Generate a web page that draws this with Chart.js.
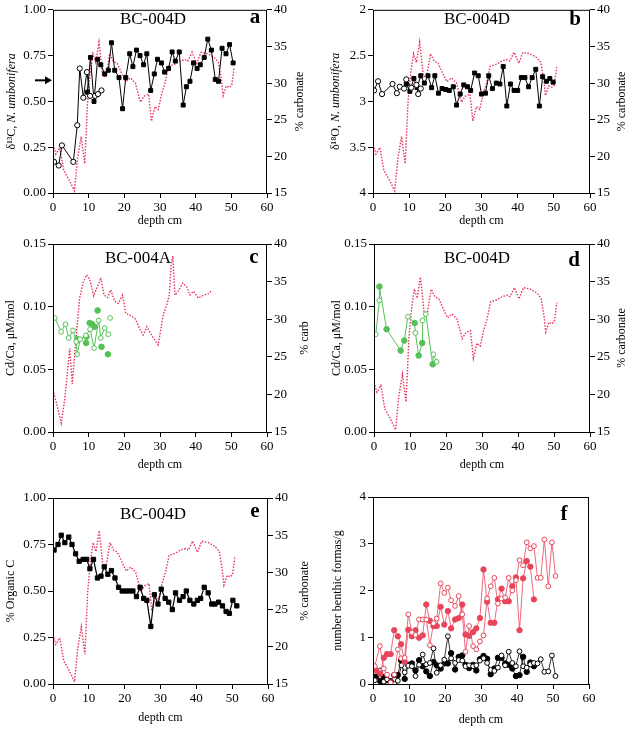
<!DOCTYPE html>
<html>
<head>
<meta charset="utf-8">
<script src="https://cdn.jsdelivr.net/npm/chart.js@4.4.0/dist/chart.umd.min.js"></script>
<style>
body { margin: 0; background: #fff; width: 630px; height: 729px; position: relative; overflow: hidden; }
canvas { position: absolute; }
</style>
</head>
<body>
<canvas id="pa" width="315" height="228" style="left:0;top:0"></canvas>
<canvas id="pb" width="315" height="228" style="left:315px;top:0"></canvas>
<canvas id="pc" width="315" height="250" style="left:0;top:228px"></canvas>
<canvas id="pd" width="315" height="250" style="left:315px;top:228px"></canvas>
<canvas id="pe" width="315" height="251" style="left:0;top:478px"></canvas>
<canvas id="pf" width="315" height="251" style="left:315px;top:478px"></canvas>
<script>
// % carbonate, BC-004D  [depth cm, %]
var carbD = [[0,21.6],[0.8,20.3],[1.9,21.2],[3,18.1],[4.5,16.8],[6,15.3],[6.9,19.8],[7.9,22.7],[8.9,19.0],[9.7,27.5],
  [10.4,31.3],[11.2,34.0],[12,32.8],[12.9,35.6],[13.9,31.0],[14.8,30.8],[15.9,34.0],[16.9,33.0],[18,32.7],[19.4,31.2],
  [20.4,30.2],[21.7,30.7],[23.1,30.0],[24.5,27.4],[25.5,28.2],[26.8,28.5],[27.6,24.8],[28.6,26.8],[29.5,26.4],[30.5,28.6],
  [31.4,30.0],[32.4,32.3],[34.2,32.6],[35.6,33.0],[37,33.2],[37.8,33.0],[39,34.2],[40.3,32.7],[41.5,34.2],[43.4,34.0],
  [45.2,33.5],[46.4,32.8],[47.2,30.5],[47.7,28.3],[48.6,29.6],[49.4,29.4],[50.1,29.7],[50.8,32.2]];
// % carbonate, BC-004A
var carbA = [[0,20.6],[1.1,18.6],[2.3,16.2],[3.3,19.4],[4.7,26.1],[5.4,21.4],[6.6,28.3],[7.5,32.9],[8.4,34.8],[9.4,35.9],
  [10.3,35.3],[11.4,33.1],[12.5,34.4],[13.4,35.5],[14.3,33.2],[15.3,32.9],[16.2,33.9],[17.3,32.4],[18.3,32.1],[19.5,33.2],
  [20.4,30.8],[21.6,30.5],[23,30.1],[24.2,28.8],[25.3,27.9],[26.3,29.0],[28.1,27.5],[29.5,26.6],[30.9,30.6],[31.9,31.9],
  [32.6,33.2],[33.1,37.2],[33.6,38.4],[34.2,33.2],[35.2,33.8],[36.4,34.8],[37.5,34.3],[38.4,33.2],[39.4,33.7],[40.8,32.8],
  [42.2,33.2],[43.6,33.4],[44.5,33.8]];

// a: d13C N. umbonifera
var d13cOpen = [[0.3,0.17],[1.6,0.15],[2.5,0.26],[5.7,0.17],[6.8,0.37],[7.5,0.68],[8.5,0.52],[9.5,0.66],[10.4,0.53],[11.8,0.53],[12.6,0.54],[13.6,0.56]];
var d13cFilled = [[9.6,0.55],[10.5,0.74],[11.5,0.50],[12.5,0.73],[13.4,0.70],[14.5,0.65],[15.5,0.67],[16.4,0.82],[17.3,0.67],[18.5,0.63],
  [19.5,0.46],[20.4,0.63],[21.5,0.76],[22.4,0.69],[23.4,0.78],[24.4,0.75],[25.4,0.70],[26.3,0.76],[27.4,0.56],[28.4,0.65],
  [29.3,0.73],[30.4,0.71],[31.3,0.66],[32.4,0.68],[33.4,0.77],[34.3,0.72],[35.4,0.77],[36.5,0.48],[37.4,0.58],[38.4,0.61],
  [39.4,0.71],[40.4,0.68],[41.3,0.70],[42.4,0.74],[43.4,0.84],[44.4,0.78],[45.5,0.62],[46.4,0.61],[47.4,0.79],[48.5,0.76],
  [49.5,0.81],[50.5,0.71]];
var arrowAt = 0.615;

// b: d18O N. umbonifera
var d18oOpen = [[0.3,2.88],[1.4,2.78],[2.5,2.92],[5.4,2.81],[6.6,2.91],[7.4,2.84],[8.6,2.86],[9.2,2.76],[10.6,2.85],[12,2.82],[12.5,2.92],[13.2,2.86]];
var d18oFilled = [[9.2,2.81],[10.2,2.89],[11.3,2.75],[12.2,2.85],[13.2,2.72],[14.2,2.80],[15.2,2.72],[16.2,2.85],[17.1,2.72],[18.1,2.91],
  [19.1,2.86],[20.1,2.87],[21.1,2.88],[22.2,2.84],[23.1,3.04],[24.1,2.92],[25.1,2.82],[26.1,2.84],[27,2.88],[28.1,2.69],
  [29.1,2.72],[30,2.92],[31.1,2.91],[32,2.72],[33,2.86],[34.1,2.80],[35.1,2.81],[36,2.62],[37,3.05],[38,2.81],
  [39,2.88],[40,2.88],[41,2.74],[42,2.74],[43,2.84],[44,2.74],[45,2.65],[46,3.05],[46.9,2.73],[48,2.78],[48.9,2.75],[49.8,2.79]];

// c: Cd/Ca BC-004A
var cdcaAOpen = [[0.5,0.091],[2.3,0.080],[3.5,0.086],[4.4,0.075],[5.6,0.081],[6.5,0.072],[6.8,0.062],[7.6,0.074],[9.2,0.077],[10.4,0.082],[11.5,0.067],[12.8,0.089],[13.4,0.075],[14.5,0.083],[15.5,0.078]];
var cdcaAFilled = [[6.8,0.074],[9.3,0.071],[9.4,0.076],[10.3,0.087],[11,0.086],[11.6,0.084],[12.5,0.097],[13.6,0.068],[15.4,0.062]];
var cdcaALone = [[16,0.091]];

// d: Cd/Ca BC-004D
var cdcaDOpen = [[0.5,0.078],[1.5,0.105],[9.4,0.092],[11.5,0.079],[13.5,0.089],[14.4,0.094],[16.5,0.062],[17.4,0.056]];
var cdcaDFilled = [[1.5,0.116],[3.5,0.082],[7.4,0.065],[8.4,0.073],[11.3,0.087],[12.4,0.061],[13.4,0.071],[16.3,0.054]];

// e: % organic C
var orgC = [[0.3,0.72],[1.4,0.75],[2.3,0.80],[3.3,0.76],[4.4,0.79],[5.3,0.75],[6.3,0.70],[7.3,0.66],[8.4,0.67],[9.4,0.67],
  [10.3,0.62],[11.3,0.67],[12.4,0.57],[13.4,0.58],[14.3,0.63],[15.3,0.59],[16.3,0.61],[17.3,0.57],[18.3,0.52],[19.3,0.50],
  [20.3,0.50],[21.3,0.50],[22.3,0.50],[23.3,0.47],[24.3,0.52],[25.3,0.46],[26.2,0.45],[27.3,0.31],[28.3,0.48],[29.3,0.43],
  [30.2,0.51],[31.3,0.46],[32.3,0.44],[33.3,0.40],[34.2,0.49],[35.3,0.45],[36.3,0.47],[37.2,0.50],[38.2,0.45],[39.3,0.43],
  [40.3,0.45],[41.2,0.46],[42.2,0.52],[43.3,0.49],[44.3,0.43],[45.2,0.43],[46.2,0.44],[47.3,0.42],[48.3,0.39],[49.2,0.38],
  [50.2,0.45],[51.3,0.42]];

// f: number benthic forams/g
var benthRedFilled = [[0.9,0.29],[2,0.22],[3,0.56],[3.9,0.64],[4.9,0.64],[5.9,1.15],[6.9,1.02],[7.8,0.85],[8.8,0.47],[9.8,1.16],
  [10.8,1.02],[11.8,1.15],[12.8,0.99],[13.8,1.04],[14.8,1.70],[15.8,1.35],[16.8,1.24],[17.7,1.24],[18.8,1.65],[19.8,1.27],
  [20.8,1.56],[21.7,1.19],[22.8,1.38],[23.8,1.41],[24.8,1.70],[25.7,1.06],[26.7,1.03],[27.8,1.11],[28.7,1.19],[29.7,1.41],
  [30.7,2.45],[31.7,1.76],[32.7,1.31],[33.7,1.31],[34.7,1.81],[35.7,2.04],[36.7,1.77],[37.7,1.77],[38.7,2.09],[39.7,2.28],
  [40.7,1.15],[41.7,2.26],[42.7,2.63],[43.7,2.51],[44.7,1.81]];
var benthRedOpen = [[0.5,0.38],[1.9,0.81],[3,0.33],[3.9,0.2],[4.9,0.03],[5.9,0.2],[6.9,0.74],[7.8,0.55],[8.8,0.56],[9.8,1.49],
  [10.8,1.1],[11.8,1.05],[12.8,1.38],[13.8,1.38],[14.8,1.38],[15.8,0.83],[16.8,1.3],[17.7,1.40],[18.8,2.15],[19.8,1.95],
  [20.8,2.06],[21.7,1.79],[22.8,1.67],[23.8,1.88],[24.8,1.49],[25.7,0.69],[26.7,1.24],[27.8,0.81],[28.7,0.74],[29.7,0.91],
  [30.7,1.04],[31.7,1.83],[32.7,2.09],[33.7,2.27],[34.7,1.72],[35.7,1.83],[36.7,1.85],[37.7,2.27],[38.7,2.0],[39.7,2.22],
  [40.7,2.65],[41.7,2.54],[42.7,3.03],[43.7,2.9],[44.7,2.95],[45.7,2.27],[46.6,2.27],[47.6,3.09],[48.7,2.09],[49.7,3.03],[50.7,2.31]];
var benthBlackFilled = [[0.9,0.16],[2,0.06],[3,0.15],[3.9,0.08],[4.9,0.06],[5.9,0.19],[6.9,0.19],[7.8,0.51],[8.8,0.11],[9.8,0.41],
  [10.8,0.44],[11.8,0.29],[12.8,0.51],[13.8,0.38],[14.8,0.27],[15.8,0.17],[16.8,0.47],[17.7,0.40],[18.8,0.33],[19.8,0.44],
  [20.8,0.44],[21.7,0.66],[22.8,0.31],[23.8,0.58],[24.8,0.61],[25.7,0.41],[26.7,0.34],[27.8,0.41],[28.7,0.29],[29.7,0.53],
  [30.7,0.60],[31.7,0.54],[32.7,0.21],[33.7,0.33],[34.7,0.56],[35.7,0.56],[36.7,0.44],[37.7,0.41],[38.7,0.33],[39.7,0.17],
  [40.7,0.19],[41.7,0.58],[42.7,0.26],[43.7,0.46],[44.7,0.38]];
var benthBlackOpen = [[0.5,0.08],[1.9,0.29],[3,0.05],[3.9,0.1],[4.9,0.05],[6,0.0],[6.9,0.07],[7.9,0.40],[8.8,0.25],[9.8,0.39],
  [10.8,0.38],[11.8,0.17],[12.8,0.41],[13.8,0.63],[14.8,0.42],[15.8,0.45],[16.8,0.76],[17.7,0.24],[18.8,0.40],[19.8,0.52],
  [20.8,1.02],[21.7,0.55],[22.8,0.45],[23.8,0.51],[24.8,0.50],[25.7,0.38],[26.7,0.40],[27.8,0.38],[28.7,0.40],[29.7,0.50],
  [30.7,0.55],[31.7,0.45],[32.7,0.30],[33.7,0.28],[34.7,0.35],[35.7,0.61],[36.7,0.40],[37.7,0.69],[38.7,0.45],[39.7,0.38],
  [40.7,0.70],[41.7,0.38],[42.7,0.35],[43.7,0.42],[44.7,0.45],[45.7,0.44],[46.6,0.53],[47.6,0.26],[48.7,0.27],[49.7,0.61],[50.7,0.17]];

var SERIF = '"Liberation Serif", "DejaVu Serif", serif';
var RED = '#e6365e', PINK = '#e8455a', GREEN = '#55c055';

function carbLine(data) {
  return { data: data, yAxisID: 'yR', showLine: true, borderColor: RED, borderWidth: 1.4,
    borderDash: [1.5, 1.5], pointRadius: 0, order: 5 };
}
function marked(data, color, filled, style, r, lineW) {
  return { data: data, yAxisID: 'y', showLine: lineW > 0, borderColor: color, borderWidth: lineW || 0,
    pointStyle: style, pointRadius: r, pointBorderWidth: 1, pointBorderColor: color,
    pointBackgroundColor: filled ? color : '#fff', order: 1 };
}
function sortedMerge(a, b) {
  return a.concat(b).sort(function(p, q) { return p[0] - q[0]; });
}

function drawRot(ctx, x, y, parts, size) {
  ctx.save();
  ctx.translate(x, y);
  ctx.rotate(-Math.PI / 2);
  var w = 0;
  parts.forEach(function(p) { ctx.font = (p[1] ? 'italic ' : '') + size + 'px ' + SERIF; w += ctx.measureText(p[0]).width; });
  var cx = -w / 2;
  ctx.textAlign = 'left'; ctx.textBaseline = 'middle'; ctx.fillStyle = '#000';
  parts.forEach(function(p) { ctx.font = (p[1] ? 'italic ' : '') + size + 'px ' + SERIF; ctx.fillText(p[0], cx, 0); cx += ctx.measureText(p[0]).width; });
  ctx.restore();
}

var panelText = {
  id: 'panelText',
  afterDraw: function(chart, args, o) {
    var ctx = chart.ctx, a = chart.chartArea;
    ctx.save();
    ctx.strokeStyle = '#000';
    ctx.lineWidth = 1;
    ctx.strokeRect(a.left + 0.5, a.top + 0.5, a.right - a.left - 1, a.bottom - a.top);
    ctx.fillStyle = '#000';
    ctx.textAlign = 'center';
    ctx.textBaseline = 'middle';
    ctx.font = '12px ' + SERIF;
    ctx.fillText('depth cm', (a.left + a.right) / 2, o.xTitleY);
    var midY = (a.top + a.bottom) / 2;
    if (o.left) drawRot(ctx, o.leftX, midY, o.left, 12);
    if (o.right) drawRot(ctx, o.rightX, midY, [[o.right, false]], 12);
    if (o.name) {
      ctx.font = '17px ' + SERIF;
      ctx.fillText(o.name, o.nameX, o.nameY);
    }
    ctx.font = 'bold 21px ' + SERIF;
    ctx.fillText(o.letter, o.letterX, o.letterY);
    if (o.arrow != null) {
      var y = chart.scales.y.getPixelForValue(o.arrow);
      ctx.lineWidth = 2;
      ctx.beginPath(); ctx.moveTo(a.left - 18, y); ctx.lineTo(a.left - 6, y); ctx.stroke();
      ctx.beginPath(); ctx.moveTo(a.left - 1, y); ctx.lineTo(a.left - 8, y - 4); ctx.lineTo(a.left - 8, y + 4); ctx.closePath(); ctx.fill();
    }
    ctx.restore();
  }
};

function axisCommon(pos, size, min, max, step, fmt, reverse) {
  var s = {
    type: 'linear', position: pos, min: min, max: max, reverse: !!reverse,
    border: { display: false },
    grid: { drawOnChartArea: false, drawTicks: true, tickLength: 5, color: '#000', tickWidth: 1 },
    ticks: { stepSize: step, color: '#000', padding: 2, font: { family: SERIF, size: 13 }, autoSkip: false,
      maxRotation: 0, callback: fmt || function(v) { return v; } },
    afterFit: function(sc) { if (pos === 'bottom') sc.height = size; else sc.width = size; }
  };
  return s;
}

function makePanel(id, box, left, right, datasets, text) {
  var c = document.getElementById(id);
  var scales = {
    x: axisCommon('bottom', c.height - box.b, 0, 60, 10),
    y: axisCommon('left', box.l, left.min, left.max, left.step, left.fmt, left.reverse)
  };
  if (right) scales.yR = axisCommon('right', c.width - box.r, 15, 40, 5);
  new Chart(c, {
    type: 'scatter',
    data: { datasets: datasets },
    options: {
      responsive: false, animation: false,
      layout: { padding: { top: box.t, right: right ? 0 : c.width - box.r, left: 0, bottom: 0 } },
      plugins: { legend: { display: false }, tooltip: { enabled: false }, panelText: text },
      scales: scales
    },
    plugins: [panelText]
  });
}

var fix2 = function(v) { return v.toFixed(2); };

makePanel('pa', { l: 53, r: 267, t: 7, b: 193 },
  { min: 0, max: 1, step: 0.25, fmt: fix2 }, true,
  [carbLine(carbD), marked(d13cOpen, '#000', false, 'circle', 2.6, 1), marked(d13cFilled, '#000', true, 'rect', 2.8, 1)],
  { xTitleY: 221, leftX: 12, left: [['\u03b4\u00b9\u00b3C, ', false], ['N. umbonifera', true]], rightX: 300, right: '% carbonate',
    name: 'BC-004D', nameX: 153, nameY: 20, letter: 'a', letterX: 255, letterY: 18, arrow: arrowAt });

makePanel('pb', { l: 58, r: 275, t: 7, b: 193 },
  { min: 2, max: 4, step: 0.5, reverse: true }, true,
  [carbLine(carbD), marked(d18oOpen, '#000', false, 'circle', 2.6, 1), marked(d18oFilled, '#000', true, 'rect', 2.8, 1)],
  { xTitleY: 221, leftX: 21, left: [['\u03b4\u00b9\u2078O, ', false], ['N. umbonifera', true]], rightX: 307, right: '% carbonate',
    name: 'BC-004D', nameX: 162, nameY: 20, letter: 'b', letterX: 260, letterY: 20 });

makePanel('pc', { l: 53, r: 267, t: 16, b: 204 },
  { min: 0, max: 0.15, step: 0.05, fmt: fix2 }, true,
  [carbLine(carbA), marked(cdcaAOpen, GREEN, false, 'circle', 2.4, 1), marked(cdcaALone, GREEN, false, 'circle', 2.4, 0),
   marked(cdcaAFilled, GREEN, true, 'circle', 2.8, 0)],
  { xTitleY: 237, leftX: 11, left: [['Cd/Ca, \u03bcM/mol', false]], rightX: 305, right: '% carb',
    name: 'BC-004A', nameX: 138, nameY: 31, letter: 'c', letterX: 254, letterY: 30 });

var cdcaDLine = sortedMerge(cdcaDOpen, cdcaDFilled);
makePanel('pd', { l: 59, r: 275, t: 16, b: 204 },
  { min: 0, max: 0.15, step: 0.05, fmt: fix2 }, true,
  [carbLine(carbD), { data: cdcaDLine, yAxisID: 'y', showLine: true, borderColor: GREEN, borderWidth: 1, pointRadius: 0, order: 2 },
   marked(cdcaDOpen, GREEN, false, 'circle', 2.4, 0), marked(cdcaDFilled, GREEN, true, 'circle', 2.8, 0)],
  { xTitleY: 237, leftX: 22, left: [['Cd/Ca, \u03bcM/mol', false]], rightX: 307, right: '% carbonate',
    name: 'BC-004D', nameX: 162, nameY: 31, letter: 'd', letterX: 259, letterY: 33 });

makePanel('pe', { l: 53, r: 268, t: 20, b: 206 },
  { min: 0, max: 1, step: 0.25, fmt: fix2 }, true,
  [carbLine(carbD), marked(orgC, '#000', true, 'rect', 3, 1.2)],
  { xTitleY: 240, leftX: 11, left: [['% Organic C', false]], rightX: 305, right: '% carbonate',
    name: 'BC-004D', nameX: 153, nameY: 37, letter: 'e', letterX: 255, letterY: 34 });

makePanel('pf', { l: 58, r: 274, t: 19, b: 206 },
  { min: 0, max: 4, step: 1 }, false,
  [marked(benthRedOpen, PINK, false, 'circle', 2.4, 0.8), marked(benthRedFilled, PINK, true, 'circle', 2.7, 0.8),
   marked(benthBlackOpen, '#000', false, 'circle', 2.4, 0.8), marked(benthBlackFilled, '#000', true, 'circle', 2.7, 0.8)],
  { xTitleY: 242, leftX: 23, left: [['number benthic formas/g', false]],
    letter: 'f', letterX: 249, letterY: 37 });
</script>
</body>
</html>
